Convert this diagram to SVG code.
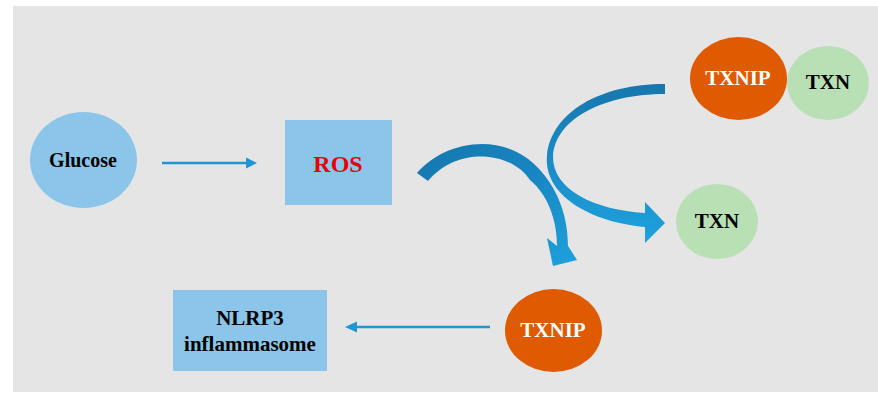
<svg xmlns="http://www.w3.org/2000/svg" width="878" height="403" viewBox="0 0 878 403">
<defs>
<style>
.lbl{font-weight:bold;text-anchor:middle;}
.blue{fill:#8bc5e9;}
.orange{fill:#df5a00;}
.green{fill:#b9dfb5;}
.line{stroke:#1e96d6;stroke-width:2.6;fill:none;}
.head{fill:#1e96d6;}
</style>
<linearGradient id="g1" x1="0" y1="0" x2="1" y2="1">
<stop offset="0" stop-color="#1677ad"/>
<stop offset="0.5" stop-color="#1886c2"/>
<stop offset="1" stop-color="#1ea2dd"/>
</linearGradient>
<linearGradient id="g2" x1="0" y1="0" x2="0" y2="1">
<stop offset="0" stop-color="#1677ad"/>
<stop offset="0.5" stop-color="#1a8cc8"/>
<stop offset="1" stop-color="#1ea2dd"/>
</linearGradient>
</defs>
<rect x="0" y="0" width="878" height="403" fill="#ffffff"/>
<rect x="13" y="6" width="865" height="386" fill="#e5e5e5"/>

<g id="connectors">
<line class="line" x1="162" y1="163" x2="248" y2="163"/>
<polygon class="head" points="257,163 246,157.5 246,168.5"/>
<line class="line" x1="490" y1="327" x2="354" y2="327"/>
<polygon class="head" points="345,327 357,321.5 357,332.5"/>
<path fill="url(#g1)" d="M417,173 C445,140 505,130 540,170 C560,192 568,220 568,246 L577,260 L553,266 L547,238 L557,246 C557,220 548,195 530,180 C512,152 458,145 428,181 Z"/>
<path fill="url(#g2)" d="M665,84 C600,84 552,112 547,155 C543,195 590,222 645,227 L645,243 L665,223 L645,202 L645,213 C595,210 553,190 553,157 C555,118 605,94 665,94 Z"/>
</g>

<g font-family="Liberation Serif, Times New Roman, DejaVu Serif, serif">
<g id="glucose">
<ellipse class="blue" cx="83.5" cy="160" rx="53.5" ry="48"/>
<text class="lbl" x="83" y="167" font-size="20" fill="#000">Glucose</text>
</g>
<g id="ros">
<rect class="blue" x="285" y="120" width="107" height="85"/>
<text class="lbl" x="338" y="172" font-size="24" fill="#e8000b">ROS</text>
</g>
<g id="txnip-top">
<ellipse class="orange" cx="738.5" cy="78.5" rx="48.5" ry="41.5"/>
<text class="lbl" x="738" y="85" font-size="21" fill="#fff">TXNIP</text>
</g>
<g id="txn-top">
<ellipse class="green" cx="828" cy="83" rx="41" ry="37"/>
<text class="lbl" x="828" y="89" font-size="21" fill="#000">TXN</text>
</g>
<g id="txn">
<ellipse class="green" cx="717" cy="221.5" rx="41" ry="37.5"/>
<text class="lbl" x="717" y="228" font-size="21" fill="#000">TXN</text>
</g>
<g id="txnip">
<ellipse class="orange" cx="553.5" cy="330.5" rx="48.5" ry="41.5"/>
<text class="lbl" x="553" y="337" font-size="21" fill="#fff">TXNIP</text>
</g>
<g id="nlrp3">
<rect class="blue" x="173" y="290" width="154" height="81"/>
<text class="lbl" x="250" y="325" font-size="21" fill="#000">NLRP3</text>
<text class="lbl" x="250" y="351" font-size="21" fill="#000">inflammasome</text>
</g>
</g>
</svg>
